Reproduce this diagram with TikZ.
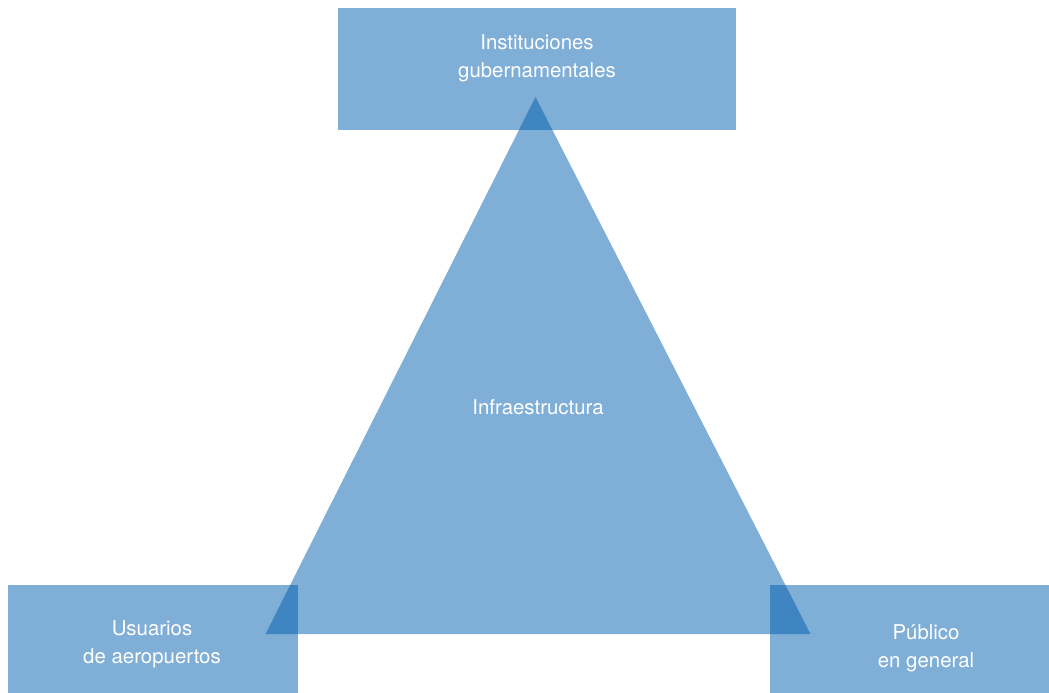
\documentclass[tikz,border=0pt]{standalone}
\usepackage{fontspec}
\setmainfont{TeX Gyre Heros}
\definecolor{actorblue}{HTML}{005DAD}

\begin{document}
\begin{tikzpicture}[x=1pt,y=-1pt]
	\tikzstyle{actor}=[rectangle,fill=actorblue,fill opacity=0.5,inner sep=0,outer sep=0]
	\tikzstyle{label}=[font=\fontsize{20.4}{28}\selectfont,text=white,align=center]
	\useasboundingbox (0,0) rectangle (1049,693);

	% the three actors
	\node[actor,minimum width=398pt,minimum height=122pt] (gob) at (537,69) {};
	\node[actor,minimum width=290pt,minimum height=108pt] (usu) at (153,639) {};
	\node[actor,minimum width=279pt,minimum height=108pt] (pub) at (909.5,639) {};

	% infrastructure triangle
	\coordinate (apex) at (535.5,97);
	\coordinate (izq) at (265.5,634);
	\coordinate (der) at (810.5,634);
	\fill[actorblue,fill opacity=0.5] (apex) -- (izq) -- (der) -- cycle;

	\node[label] (tgob) at (537,58) {Instituciones\\gubernamentales};
	\node[label] (tinf) at (538,407) {Infraestructura};
	\node[label] (tusu) at (152,644) {Usuarios\\de aeropuertos};
	\node[label] (tpub) at (926,648) {Público\\en general};
\end{tikzpicture}
\end{document}
